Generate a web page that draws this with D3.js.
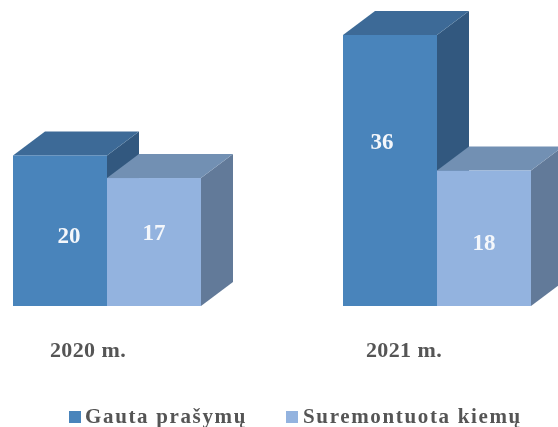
<!DOCTYPE html>
<html><head><meta charset="utf-8">
<style>html,body{margin:0;padding:0;background:#fff;overflow:hidden}svg{display:block}text{font-family:"Liberation Serif",serif;font-weight:bold}</style>
<script src="https://cdn.jsdelivr.net/npm/d3@7"></script>
</head><body><svg id="c" width="558" height="427"></svg>
<script>
const categories = ["2020 m.", "2021 m."];
const seriesNames = ["Gauta prašymų", "Suremontuota kiemų"];
const gauta = [20, 36];
const suremontuota = [17, 18];
const seriesValues = [gauta, suremontuota];
const colors = [
  {front:"#4a84bb", top:"#3d6b97", side:"#32597f"},
  {front:"#93b3df", top:"#7290b3", side:"#627a99"}
];
const W=94, DX=32, DY=24;
const svg=d3.select("#c");
const defs=svg.append("defs");
defs.append("filter").attr("id","soft").attr("x","-5%").attr("y","-5%").attr("width","110%").attr("height","110%")
  .append("feGaussianBlur").attr("stdDeviation",0.5);
const x=d3.scalePoint().domain(categories).range([107,437]);
const y=d3.scaleLinear().domain([0,36]).range([306,35]);
const g=svg.append("g").attr("filter","url(#soft)");
const pts=a=>a.map(p=>p.join(",")).join(" ");
categories.forEach((c,ci)=>{
  seriesValues.forEach((vals,si)=>{
    const x0=x(c)+(si-1)*W, x1=x0+W, yt=y(vals[ci]), yb=y(0), col=colors[si];
    g.append("polygon").attr("points",pts([[x1,yt],[x1+DX,yt-DY],[x1+DX,yb-DY],[x1,yb]])).attr("fill",col.side);
    g.append("polygon").attr("points",pts([[x0,yt],[x0+DX,yt-DY],[x1+DX,yt-DY],[x1,yt]])).attr("fill",col.top);
    g.append("rect").attr("x",x0).attr("y",yt).attr("width",W).attr("height",yb-yt).attr("fill",col.front);
  });
});
const labelShift=[[[9,4.5],[0,-10]],[[-8,-30],[0,4]]];
categories.forEach((c,ci)=>{
  seriesValues.forEach((vals,si)=>{
    const cx=x(c)+(si-1)*W+W/2, my=(y(vals[ci])+y(0))/2, s=labelShift[ci][si];
    g.append("text").attr("x",cx+s[0]).attr("y",my+s[1]).attr("dy","0.35em").attr("text-anchor","middle")
      .attr("font-size",23).attr("fill","#f4f7fb").text(vals[ci]);
  });
});
const catShift=[-19,-33];
categories.forEach((c,ci)=>{
  g.append("text").attr("x",x(c)+catShift[ci]).attr("y",357).attr("text-anchor","middle")
   .attr("font-size",22).attr("letter-spacing","0.4px").attr("fill","#555").text(c);
});
const lx=[69,286], tx=[85,303];
seriesNames.forEach((n,i)=>{
  g.append("rect").attr("x",lx[i]).attr("y",411).attr("width",12).attr("height",12).attr("fill",colors[i].front);
  g.append("text").attr("x",tx[i]).attr("y",423).attr("font-size",21).attr("letter-spacing","1.65px").attr("fill","#555").text(n);
});
</script></body></html>
